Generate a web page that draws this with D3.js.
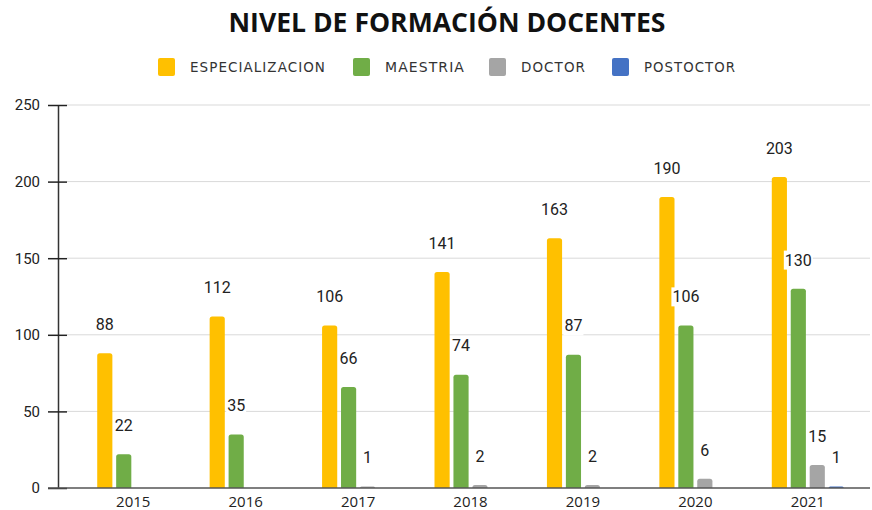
<!DOCTYPE html>
<html lang="en">
<head>
    <meta charset="UTF-8">
    <title>Nivel de formación docentes</title>
    <script src="https://d3js.org/d3.v7.min.js"></script>
    <style>
        body { margin: 0; background: #fff; }
        svg { display: block; }
    </style>
</head>
<body>
    <div id="chart"></div>
    <script>
        // data
        const years = ["2015", "2016", "2017", "2018", "2019", "2020", "2021"];
        const seriesNames = ["ESPECIALIZACION", "MAESTRIA", "DOCTOR", "POSTOCTOR"];
        const especializacion = [88, 112, 106, 141, 163, 190, 203];
        const maestria = [22, 35, 66, 74, 87, 106, 130];
        const doctor = [0, 0, 1, 2, 2, 6, 15];
        const postdoctor = [0, 0, 0, 0, 0, 0, 1];
        const yTicks = [0, 50, 100, 150, 200, 250];
        const colors = ["#ffc000", "#70ad47", "#a5a5a5", "#4472c4"];

        const width = 872, height = 510;
        const seriesValues = [especializacion, maestria, doctor, postdoctor];

        // flatten into rows for the bars
        const rows = [];
        years.forEach((yr, i) => {
            seriesNames.forEach((s, j) => {
                rows.push({year: yr, series: s, value: seriesValues[j][i]});
            });
        });

        const svg = d3.select("#chart")
          .append("svg")
            .attr("width", width)
            .attr("height", height);

        const plotLeft = 58, plotRight = 870;

        const y = d3.scaleLinear()
            .domain([0, 250])
            .range([488, 105]);

        const x = d3.scaleBand()
            .domain(years)
            .range([77, 864]);

        const xSub = d3.scaleBand()
            .domain(seriesNames)
            .range([x.bandwidth() / 2 - 36, x.bandwidth() / 2 + 36])
            .paddingInner(0.2);

        const color = d3.scaleOrdinal()
            .domain(seriesNames)
            .range(colors);

        // gridlines
        svg.append("g")
          .selectAll("line")
          .data(yTicks.filter(d => d > 0))
          .join("line")
            .attr("x1", 67)
            .attr("x2", plotRight)
            .attr("y1", d => y(d))
            .attr("y2", d => y(d))
            .attr("stroke", "#d9d9d9")
            .attr("stroke-width", 1);

        // Y axis
        const yAxis = svg.append("g")
            .attr("transform", `translate(${plotLeft},0)`)
            .call(d3.axisLeft(y).tickValues(yTicks).tickSize(0).tickPadding(18));
        yAxis.select(".domain").attr("stroke", "#333").attr("stroke-width", 1.5);
        yAxis.selectAll(".tick line").remove();
        yAxis.selectAll(".tick")
          .append("line")
            .attr("x1", -10)
            .attr("x2", 9)
            .attr("stroke", "#222")
            .attr("stroke-width", 1.5);
        yAxis.selectAll("text")
            .attr("fill", "#222")
            .style("font-family", "Roboto, sans-serif")
            .style("font-size", "15px");

        // bars
        const groups = svg.append("g")
          .selectAll("g")
          .data(years)
          .join("g")
            .attr("transform", d => `translate(${x(d)},0)`);

        groups.selectAll("path")
          .data(yr => rows.filter(r => r.year === yr && r.value > 0))
          .join("path")
            .attr("fill", d => color(d.series))
            .attr("d", d => {
                const x0 = xSub(d.series), w = xSub.bandwidth();
                const top = y(d.value), base = y(0);
                const r = Math.min(2.5, (base - top));
                return `M${x0},${base}V${top + r}Q${x0},${top} ${x0 + r},${top}` +
                       `H${x0 + w - r}Q${x0 + w},${top} ${x0 + w},${top + r}V${base}Z`;
            });

        // value labels with white background
        const labels = groups.selectAll("g.lbl")
          .data(yr => rows.filter(r => r.year === yr && r.value > 0))
          .join("g")
            .attr("class", "lbl")
            .attr("transform", d => `translate(${xSub(d.series) + xSub.bandwidth() / 2},${y(d.value) - 29})`);

        labels.append("rect")
            .attr("fill", "#fff");

        labels.append("text")
            .attr("text-anchor", "middle")
            .attr("dy", "0.36em")
            .attr("fill", "#222")
            .style("font-family", "Roboto, sans-serif")
            .style("font-size", "16px")
            .text(d => d.value);

        labels.each(function() {
            const g = d3.select(this);
            const b = g.select("text").node().getBBox();
            g.select("rect")
                .attr("x", b.x - 1)
                .attr("y", b.y)
                .attr("width", b.width + 2)
                .attr("height", b.height);
        });

        // baseline / X axis
        const xAxis = svg.append("g")
            .attr("transform", `translate(0,${y(0)})`)
            .call(d3.axisBottom(x).tickSize(0).tickPadding(8));
        xAxis.select(".domain").remove();
        xAxis.append("line")
            .attr("x1", 48)
            .attr("x2", plotRight)
            .attr("stroke", "#555")
            .attr("stroke-width", 1.5);
        xAxis.selectAll("text")
            .attr("fill", "#222")
            .style("font-family", "'Open Sans', sans-serif")
            .style("font-size", "15px");

        // title
        svg.append("text")
            .attr("x", 447)
            .attr("y", 32)
            .attr("text-anchor", "middle")
            .attr("fill", "#111")
            .attr("textLength", 437)
            .attr("lengthAdjust", "spacingAndGlyphs")
            .style("font-family", "'Open Sans', sans-serif")
            .style("font-weight", "bold")
            .style("font-size", "26px")
            .text("NIVEL DE FORMACIÓN DOCENTES");

        // legend
        const legendX = [158, 353, 489, 612];
        const legendW = [136, 80, 65, 92];
        const legend = svg.append("g")
          .selectAll("g")
          .data(seriesNames)
          .join("g")
            .attr("transform", (d, i) => `translate(${legendX[i]},58)`);

        legend.append("rect")
            .attr("width", 17)
            .attr("height", 18)
            .attr("rx", 2)
            .attr("fill", d => color(d));

        legend.append("text")
            .attr("x", 32)
            .attr("y", 9)
            .attr("dy", "0.36em")
            .attr("fill", "#333")
            .attr("textLength", (d, i) => legendW[i])
            .attr("lengthAdjust", "spacingAndGlyphs")
            .style("font-family", "'DejaVu Sans Condensed', 'DejaVu Sans', sans-serif")
            .style("font-size", "14px")
            .style("letter-spacing", "1px")
            .text(d => d);
    </script>
</body>
</html>
